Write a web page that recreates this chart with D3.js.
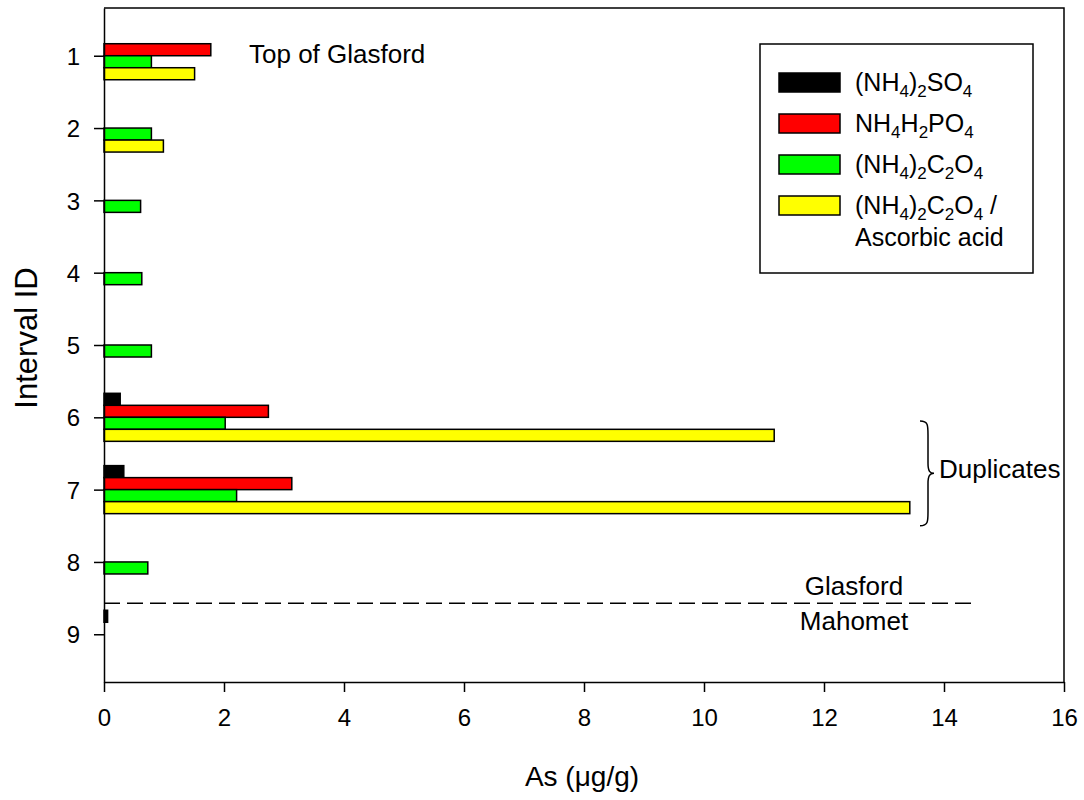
<!DOCTYPE html>
<html lang="en">
<head>
<meta charset="UTF-8">
<title>As extraction by interval</title>
<script src="https://d3js.org/d3.v7.min.js"></script>
<style>
  body { margin: 0; background: #fff; font-family: Arial, "Liberation Sans", sans-serif; }
  svg { display: block; }
</style>
</head>
<body>
<script>
// Data
const intervals = [1, 2, 3, 4, 5, 6, 7, 8, 9];
const sulfate   = [null, null, null, null, null, 0.27, 0.33, null, 0.06];   // (NH4)2SO4
const phosphate = [1.78, null, null, null, null, 2.74, 3.13, null, null];  // NH4H2PO4
const oxalate   = [0.79, 0.79, 0.61, 0.63, 0.79, 2.02, 2.21, 0.73, null];  // (NH4)2C2O4
const oxAscorb  = [1.51, 0.99, null, null, null, 11.17, 13.43, null, null]; // (NH4)2C2O4 / ascorbic
const xTicks = [0, 2, 4, 6, 8, 10, 12, 14, 16];

const series = [
  { name: "sulfate", values: sulfate, color: "#000000" },
  { name: "phosphate", values: phosphate, color: "#ff0000" },
  { name: "oxalate", values: oxalate, color: "#00ff00" },
  { name: "oxAscorb", values: oxAscorb, color: "#ffff00" }
];

const width = 1084, height = 800;
const margin = { top: 8, left: 104, right: 20, bottom: 118 };
const innerW = width - margin.left - margin.right;
const innerH = height - margin.top - margin.bottom;

const svg = d3.select("body").append("svg")
  .attr("width", width).attr("height", height);

const g = svg.append("g")
  .attr("transform", `translate(${margin.left},${margin.top})`);

const x = d3.scaleLinear().domain([0, 16]).range([0, innerW]);
const y = d3.scaleLinear().domain([0.34, 9.66]).range([0, innerH]);
const barH = y(1.166) - y(1);

// bars
series.forEach((s, si) => {
  g.append("g").selectAll("rect")
    .data(s.values.map((v, i) => ({ v, id: intervals[i] })).filter(d => d.v !== null))
    .enter().append("rect")
    .attr("x", x(0))
    .attr("y", d => y(d.id) + (si - 2) * barH)
    .attr("width", d => x(d.v) - x(0))
    .attr("height", barH)
    .attr("fill", s.color)
    .attr("stroke", "#000")
    .attr("stroke-width", 1.5);
});

// frame
g.append("path")
  .attr("d", `M0,0H${innerW}V${innerH}`)
  .attr("fill", "none").attr("stroke", "#000").attr("stroke-width", 1.5);

// axes
const xAxis = g.append("g")
  .attr("transform", `translate(0,${innerH})`)
  .call(d3.axisBottom(x).tickValues(xTicks).tickSize(10).tickPadding(17).tickSizeOuter(0));
const yAxis = g.append("g")
  .call(d3.axisLeft(y).tickValues(intervals).tickSize(10).tickPadding(14).tickSizeOuter(0));

[xAxis, yAxis].forEach(ax => {
  ax.select(".domain").attr("stroke", "#000").attr("stroke-width", 1.5);
  ax.selectAll(".tick line").attr("stroke", "#000").attr("stroke-width", 1.5);
  ax.selectAll(".tick text")
    .attr("fill", "#000")
    .style("font-size", "24px")
    .style("font-family", "Arial, 'Liberation Sans', sans-serif");
});
yAxis.selectAll(".tick text").attr("dy", "0.36em");

// axis titles
svg.append("text")
  .attr("x", margin.left + innerW / 2 - 2)
  .attr("y", 786)
  .attr("text-anchor", "middle")
  .style("font-size", "28px")
  .text("As (\u03bcg/g)");

svg.append("text")
  .attr("transform", `translate(37,338) rotate(-90)`)
  .attr("text-anchor", "middle")
  .style("font-size", "31px")
  .text("Interval ID");

// annotations
g.append("text")
  .attr("x", 145).attr("y", 55)
  .style("font-size", "26px")
  .text("Top of Glasford");

// Glasford / Mahomet boundary
g.append("line")
  .attr("x1", x(0)).attr("x2", x(14.45))
  .attr("y1", y(8.57)).attr("y2", y(8.57))
  .attr("stroke", "#000").attr("stroke-width", 1.5)
  .attr("stroke-dasharray", "16,7");

g.append("text")
  .attr("x", x(12.5)).attr("y", y(8.57) - 8)
  .attr("text-anchor", "middle")
  .style("font-size", "26px")
  .text("Glasford");
g.append("text")
  .attr("x", x(12.5)).attr("y", y(8.57) + 27)
  .attr("text-anchor", "middle")
  .style("font-size", "26px")
  .text("Mahomet");

// brace for duplicates
const bx = x(13.6), by0 = y(6.05), by1 = y(7.5), bm = (by0 + by1) / 2;
g.append("path")
  .attr("d", `M${bx},${by0} C${bx + 8},${by0} ${bx + 8},${by0 + 4} ${bx + 8},${by0 + 14}
              L${bx + 8},${bm - 10} C${bx + 8},${bm - 2} ${bx + 10},${bm} ${bx + 14},${bm}
              C${bx + 10},${bm} ${bx + 8},${bm + 2} ${bx + 8},${bm + 10}
              L${bx + 8},${by1 - 14} C${bx + 8},${by1 - 4} ${bx + 8},${by1} ${bx},${by1}`)
  .attr("fill", "none").attr("stroke", "#000").attr("stroke-width", 1.5);

g.append("text")
  .attr("x", bx + 19).attr("y", bm + 5)
  .style("font-size", "26px")
  .text("Duplicates");

// legend
const legend = svg.append("g").attr("transform", "translate(760,44)");
legend.append("rect")
  .attr("width", 273).attr("height", 229)
  .attr("fill", "#fff").attr("stroke", "#000").attr("stroke-width", 1.5);

// label pieces: [text, isSubscript]
const legendLabels = [
  [["(NH", 0], ["4", 1], [")", 0], ["2", 1], ["SO", 0], ["4", 1]],
  [["NH", 0], ["4", 1], ["H", 0], ["2", 1], ["PO", 0], ["4", 1]],
  [["(NH", 0], ["4", 1], [")", 0], ["2", 1], ["C", 0], ["2", 1], ["O", 0], ["4", 1]],
  [["(NH", 0], ["4", 1], [")", 0], ["2", 1], ["C", 0], ["2", 1], ["O", 0], ["4", 1], [" /", 0]]
];

series.forEach((s, i) => {
  const cy = 38 + i * 41;
  legend.append("rect")
    .attr("x", 19).attr("y", cy - 9)
    .attr("width", 61).attr("height", 19)
    .attr("fill", s.color).attr("stroke", "#000").attr("stroke-width", 1.5);
  const t = legend.append("text")
    .attr("x", 95).attr("y", cy + 9)
    .style("font-size", "25px");
  let prevSub = false;
  legendLabels[i].forEach(([str, sub]) => {
    const ts = t.append("tspan").text(str);
    if (sub) {
      ts.style("font-size", "17px");
      if (!prevSub) ts.attr("dy", 6);
    } else if (prevSub) {
      ts.attr("dy", -6);
    }
    prevSub = !!sub;
  });
});
legend.append("text")
  .attr("x", 95).attr("y", 202)
  .style("font-size", "25px")
  .text("Ascorbic acid");
</script>
</body>
</html>
